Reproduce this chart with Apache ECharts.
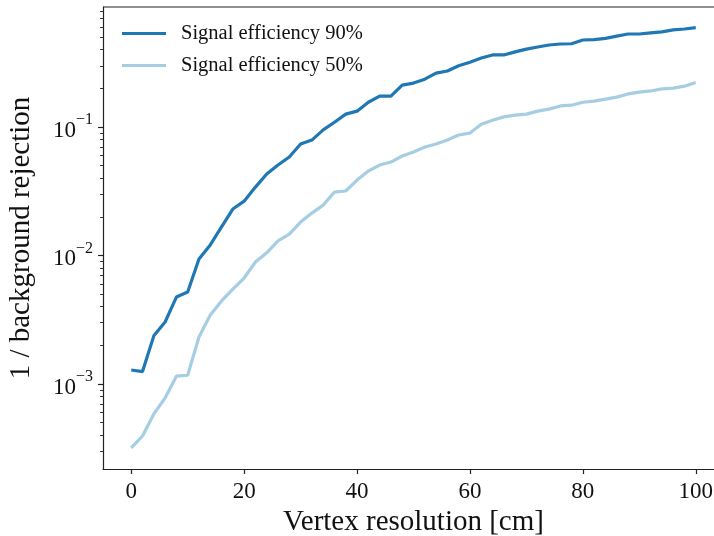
<!DOCTYPE html>
<html><head><meta charset="utf-8">
<script src="https://cdn.jsdelivr.net/npm/echarts@6/dist/echarts.min.js"></script>
<style>html,body{margin:0;padding:0;background:#fff}#c{width:714px;height:536px}</style>
</head><body><div id="c"></div>
<script>
const xValues = [0,2,4,6,8,10,12,14,16,18,20,22,24,26,28,30,32,34,36,38,40,42,44,46,48,50,52,54,56,58,60,62,64,66,68,70,72,74,76,78,80,82,84,86,88,90,92,94,96,98,100];
const eff90 = [1.285e-3,1.25e-3,2.37e-3,3.04e-3,4.75e-3,5.2e-3,9.4e-3,1.21e-2,1.67e-2,2.30e-2,2.65e-2,3.41e-2,4.31e-2,5.06e-2,5.84e-2,7.38e-2,7.92e-2,9.5e-2,0.109,0.126,0.133,0.156,0.174,0.174,0.212,0.22,0.236,0.263,0.273,0.30,0.32,0.345,0.364,0.364,0.385,0.404,0.42,0.435,0.443,0.445,0.476,0.48,0.49,0.51,0.53,0.53,0.54,0.55,0.57,0.58,0.595];
const eff50 = [3.18e-4,3.94e-4,5.85e-4,7.78e-4,1.15e-3,1.17e-3,2.32e-3,3.44e-3,4.43e-3,5.48e-3,6.68e-3,8.9e-3,1.05e-2,1.30e-2,1.47e-2,1.82e-2,2.14e-2,2.47e-2,3.12e-2,3.18e-2,3.87e-2,4.55e-2,5.06e-2,5.34e-2,5.95e-2,6.39e-2,6.99e-2,7.38e-2,7.92e-2,8.67e-2,8.98e-2,0.105,0.113,0.120,0.124,0.126,0.133,0.138,0.146,0.148,0.156,0.159,0.165,0.171,0.181,0.187,0.191,0.198,0.201,0.208,0.222];
const seriesNames = ['Signal efficiency 90%','Signal efficiency 50%'];
const xTicks = [0,20,40,60,80,100];
const yMajorTicks = [0.001,0.01,0.1];
const yMinorTicks = [3e-4,4e-4,5e-4,6e-4,7e-4,8e-4,9e-4,2e-3,3e-3,4e-3,5e-3,6e-3,7e-3,8e-3,9e-3,2e-2,3e-2,4e-2,5e-2,6e-2,7e-2,8e-2,9e-2,0.2,0.3,0.4,0.5,0.6,0.7,0.8];
const yMin = 2.18e-4, yMax = 0.86;
const xMin = -5, xMax = 105;

const font = '"Liberation Serif", "DejaVu Serif", serif';
const sup = {'-1':'−1','-2':'−2','-3':'−3'};
const chart = echarts.init(document.getElementById('c'), null, {renderer:'canvas'});
chart.setOption({
  animation:false,
  backgroundColor:'#fff',
  grid:{left:103,top:7,right:-10,bottom:67,containLabel:false,outerBoundsMode:'none'},
  legend:{
    left:117, top:18, orient:'vertical', itemWidth:44, itemHeight:3, itemGap:11,
    icon:'rect',
    textStyle:{fontFamily:font,fontSize:20.5,lineHeight:21,color:'#111',padding:[0,0,0,10]},
    data:seriesNames
  },
  xAxis:{
    type:'value', min:xMin, max:xMax,
    name:'Vertex resolution [cm]', nameLocation:'middle', nameGap:36,
    nameTextStyle:{fontFamily:font,fontSize:29,color:'#111'},
    axisLine:{onZero:false,lineStyle:{color:'#222',width:1.2}},
    axisTick:{customValues:xTicks,length:5,lineStyle:{color:'#222',width:1.2}},
    axisLabel:{customValues:xTicks,fontFamily:font,fontSize:23,color:'#111',margin:11},
    splitLine:{show:false}
  },
  yAxis:[{
    type:'log', logBase:10, min:yMin, max:yMax,
    name:'1 / background rejection', nameLocation:'middle', nameGap:67,
    nameTextStyle:{fontFamily:font,fontSize:29,color:'#111'},
    axisLine:{show:true,onZero:false,lineStyle:{color:'#222',width:1.2}},
    axisTick:{customValues:yMajorTicks,length:5,lineStyle:{color:'#222',width:1.2}},
    axisLabel:{
      customValues:yMajorTicks, margin:10,
      formatter:function(v){const e=Math.round(Math.log10(v));return '{b|10}{s|'+(sup[String(e)]||e)+'}';},
      rich:{
        b:{fontFamily:font,fontSize:23,color:'#111',lineHeight:30,verticalAlign:'bottom'},
        s:{fontFamily:font,fontSize:16,color:'#111',lineHeight:30,verticalAlign:'top'}
      }
    },
    splitLine:{show:false}
  },{
    type:'log', logBase:10, min:yMin, max:yMax, position:'left',
    axisLine:{show:false,onZero:false},
    axisTick:{customValues:yMinorTicks,length:3,lineStyle:{color:'#222',width:0.9}},
    axisLabel:{show:false},
    splitLine:{show:false}
  }],
  graphic:[{type:'line',shape:{x1:103,y1:7,x2:714,y2:7},style:{stroke:'#222',lineWidth:1.2},silent:true}],
  series:[
    {name:seriesNames[0],type:'line',data:xValues.map((x,i)=>[x,eff90[i]]),showSymbol:false,
     lineStyle:{color:'#1f78b4',width:3.2},itemStyle:{color:'#1f78b4'}},
    {name:seriesNames[1],type:'line',data:xValues.map((x,i)=>[x,eff50[i]]),showSymbol:false,
     lineStyle:{color:'#a6cee3',width:3.2},itemStyle:{color:'#a6cee3'}}
  ]
});
</script></body></html>
